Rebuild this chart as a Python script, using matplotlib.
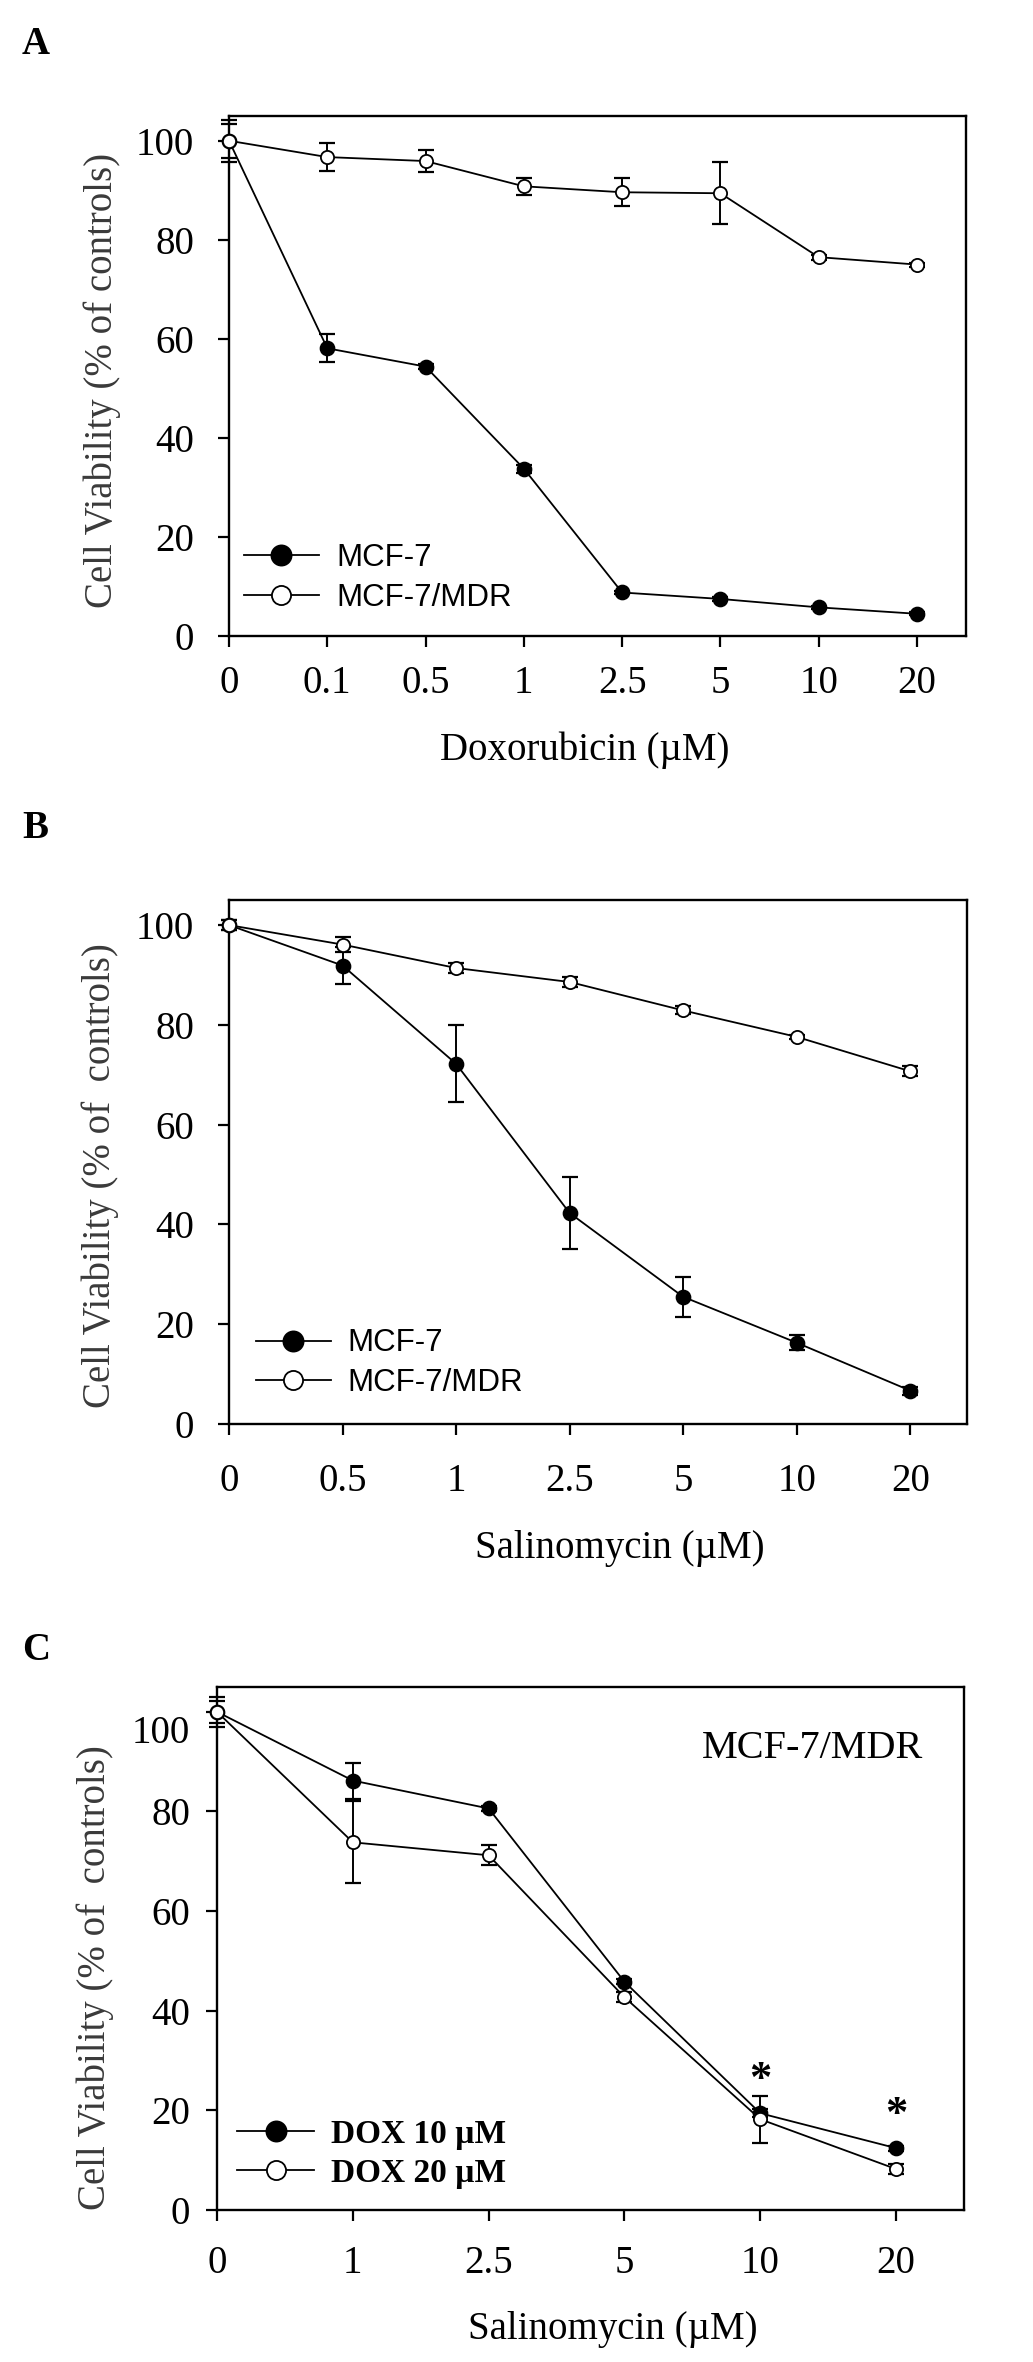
import matplotlib
matplotlib.use('Agg')
import matplotlib.pyplot as plt
from matplotlib.transforms import ScaledTranslation

plt.rcParams['font.family'] = ['Liberation Serif', 'DejaVu Serif']
plt.rcParams['axes.linewidth'] = 1.7

# panel A - doxorubicin
a_doses = ['0', '0.1', '0.5', '1', '2.5', '5', '10', '20']
a_mcf7 = [100, 58.1, 54.4, 33.8, 8.8, 7.5, 5.8, 4.5]
a_mcf7_err = [4.2, 2.8, 0.5, 0.8, 0.4, 0.4, 0.3, 0.3]
a_mdr = [100, 96.7, 95.9, 90.8, 89.6, 89.4, 76.5, 75.0]
a_mdr_err = [3.4, 2.8, 2.3, 1.7, 2.8, 6.3, 0.5, 0.4]

# panel B - salinomycin
b_doses = ['0', '0.5', '1', '2.5', '5', '10', '20']
b_mcf7 = [100, 91.9, 72.2, 42.3, 25.5, 16.3, 6.7]
b_mcf7_err = [1.0, 3.7, 7.7, 7.3, 4.0, 1.5, 0.8]
b_mdr = [100, 96.1, 91.4, 88.6, 82.9, 77.6, 70.7]
b_mdr_err = [1.0, 1.5, 1.0, 1.0, 0.8, 0.4, 1.0]

# panel C - salinomycin + DOX on MCF-7/MDR
c_doses = ['0', '1', '2.5', '5', '10', '20']
c_dox10 = [100, 86.2, 80.6, 45.8, 19.4, 12.4]
c_dox10_err = [3.0, 3.6, 0.5, 0.5, 0.8, 0.5]
c_dox20 = [100, 73.8, 71.2, 42.7, 18.2, 8.2]
c_dox20_err = [2.2, 8.2, 2.0, 1.0, 4.7, 1.0]
c_signif = [False, False, False, False, True, True]

yticks = [0, 20, 40, 60, 80, 100]


def draw_series(ax, y, err, filled, label):
    x = list(range(len(y)))
    ax.errorbar(x, y, yerr=err, fmt='none', ecolor='black', elinewidth=1.4,
                capsize=6, capthick=1.6, clip_on=False, zorder=2)
    ax.plot(x, y, color='black', lw=1.3, marker='o', ms=10 if filled else 9.5,
            mfc='black' if filled else 'white', mec='black', mew=1.3,
            label=label, clip_on=False, zorder=3)


def style_axes(ax, doses, xpad, ypad):
    ax.set_xlim(0, len(doses) - 0.5)
    ax.set_ylim(0, 105)
    ax.set_xticks(range(len(doses)))
    ax.set_xticklabels(doses)
    ax.set_yticks(yticks)
    ax.tick_params(axis='both', direction='out', length=8, width=1.6, labelsize=28)
    ax.tick_params(axis='x', pad=xpad)
    ax.tick_params(axis='y', pad=ypad)


fig = plt.figure(figsize=(10.33, 23.62), dpi=100)

# ---- A ----
ax = fig.add_axes([0.2217, 0.7307, 0.7135, 0.2202])
draw_series(ax, a_mcf7, a_mcf7_err, True, 'MCF-7')
draw_series(ax, a_mdr, a_mdr_err, False, 'MCF-7/MDR')
style_axes(ax, a_doses, 13, 17)
ax.set_xlabel('Doxorubicin (\u00b5M)', fontsize=28, va='center')
ax.xaxis.set_label_coords(0.483, -0.219)
ax.set_ylabel('Cell Viability (% of controls)', fontsize=28, color='#3a3a3a', va='center')
ax.yaxis.set_label_coords(-0.172, 0.492)
ax.legend(loc='lower left', bbox_to_anchor=(0.02, 0.045), frameon=False,
          prop={'family': 'Liberation Sans', 'size': 22.5}, handlelength=2.4,
          handletextpad=0.55, labelspacing=0.3, borderpad=0, borderaxespad=0,
          markerscale=1.45)
fig.text(22 / 1033, 1 - 45 / 2362, 'A', fontsize=28, fontweight='bold', va='center')

# ---- B ----
ax = fig.add_axes([0.2217, 0.3971, 0.7144, 0.2218])
draw_series(ax, b_mcf7, b_mcf7_err, True, 'MCF-7')
draw_series(ax, b_mdr, b_mdr_err, False, 'MCF-7/MDR')
style_axes(ax, b_doses, 20, 17)
ax.set_xlabel('Salinomycin (\u00b5M)', fontsize=28, va='center')
ax.xaxis.set_label_coords(0.53, -0.237)
ax.set_ylabel('Cell Viability (% of  controls)', fontsize=28, color='#3a3a3a', va='center')
ax.yaxis.set_label_coords(-0.174, 0.475)
ax.legend(loc='lower left', bbox_to_anchor=(0.036, 0.05), frameon=False,
          prop={'family': 'Liberation Sans', 'size': 22.5}, handlelength=2.4,
          handletextpad=0.55, labelspacing=0.3, borderpad=0, borderaxespad=0,
          markerscale=1.45)
fig.text(22 / 1033, 1 - 829 / 2362, 'B', fontsize=28, fontweight='bold', va='center')

# ---- C ----
ax = fig.add_axes([0.2101, 0.0644, 0.7231, 0.2214])
draw_series(ax, c_dox10, c_dox10_err, True, 'DOX 10 \u00b5M')
draw_series(ax, c_dox20, c_dox20_err, False, 'DOX 20 \u00b5M')
style_axes(ax, c_doses, 17, 11.5)
ax.set_xlabel('Salinomycin (\u00b5M)', fontsize=28, va='center')
ax.xaxis.set_label_coords(0.53, -0.229)
ax.set_ylabel('Cell Viability (% of  controls)', fontsize=28, color='#3a3a3a', va='center')
ax.yaxis.set_label_coords(-0.163, 0.444)
ax.legend(loc='lower left', bbox_to_anchor=(0.027, 0.04), frameon=False,
          prop={'family': 'Liberation Serif', 'size': 24, 'weight': 'bold'},
          handlelength=2.3, handletextpad=0.5, labelspacing=0.25, borderpad=0,
          borderaxespad=0, markerscale=1.45)
ax.text(0.797, 0.883, 'MCF-7/MDR', transform=ax.transAxes, fontsize=29,
        ha='center', va='center')
for i, sig in enumerate(c_signif):
    if sig:
        ax.annotate('*', (i, c_dox10[i]), xytext=(0, 24), textcoords='offset points',
                    ha='center', va='center', fontsize=32, fontweight='bold')
# the 100 label sits a little low in the original
lab = ax.get_yticklabels()[-1]
lab.set_transform(lab.get_transform() + ScaledTranslation(0, -0.17, fig.dpi_scale_trans))
fig.text(22 / 1033, 1 - 1651 / 2362, 'C', fontsize=28, fontweight='bold', va='center')

fig.savefig('out.png', dpi=100)
